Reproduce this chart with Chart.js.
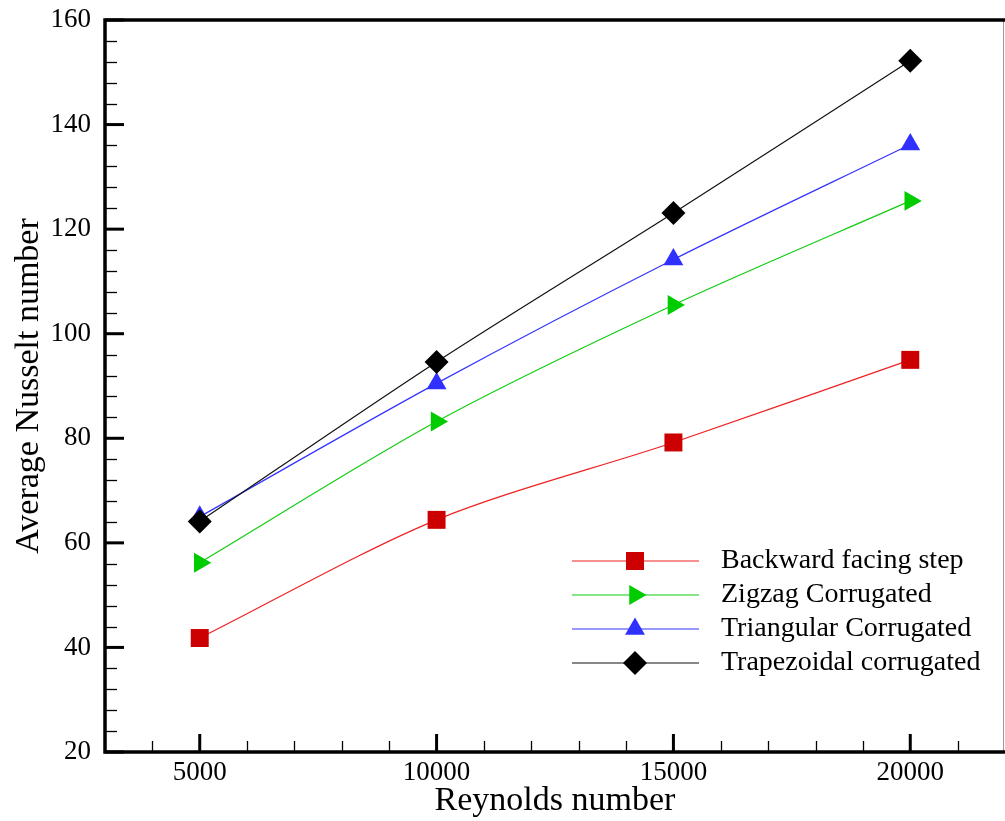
<!DOCTYPE html>
<html>
<head>
<meta charset="utf-8">
<script src="https://cdn.jsdelivr.net/npm/chart.js@4.4.0/dist/chart.umd.min.js"></script>
<style>
  html, body { margin: 0; padding: 0; background: #fff; overflow: hidden; }
  #nusseltChart { display: block; }
</style>
</head>
<body>
<canvas id="nusseltChart" width="1005" height="821"></canvas>
<script>
// ===== DATA =====
const reynolds = [5000, 10000, 15000, 20000];
const backwardStep = [41.8, 64.4, 79.2, 95.0];
const zigzag = [56.2, 83.2, 105.5, 125.4];
const triangular = [65.0, 90.5, 114.2, 136.2];
const trapezoidal = [64.1, 94.6, 123.1, 152.2];
const seriesNames = ['Backward facing step', 'Zigzag Corrugated', 'Triangular Corrugated', 'Trapezoidal corrugated'];
const xTickValues = [5000, 10000, 15000, 20000];
const yTickValues = [20, 40, 60, 80, 100, 120, 140, 160];

const SERIF = "'Liberation Serif', 'Times New Roman', serif";
Chart.defaults.font.family = SERIF;
Chart.defaults.color = '#000';

function toPoints(vals) {
  return reynolds.map((r, i) => ({ x: r, y: vals[i] }));
}

// no automatic label padding, the plot box is placed by hand
function noPad(s) {
  s.paddingTop = 0; s.paddingBottom = 0; s.paddingLeft = 0; s.paddingRight = 0;
}

// ===== FRAME + INWARD TICKS =====
const frameTicks = {
  id: 'frameTicks',
  afterDatasetsDraw(chart) {
    const { ctx, chartArea: a, scales: { x, y } } = chart;
    ctx.save();
    ctx.strokeStyle = '#000';

    // minor ticks
    ctx.lineWidth = 1.3;
    for (let v = x.min + 1000; v < x.max; v += 1000) {
      if (xTickValues.includes(v)) continue;
      const px = Math.round(x.getPixelForValue(v)) + 0.5;
      ctx.beginPath(); ctx.moveTo(px, a.bottom); ctx.lineTo(px, a.bottom - 11); ctx.stroke();
    }
    for (let v = y.min + 4; v < y.max; v += 4) {
      if (yTickValues.includes(v)) continue;
      const py = Math.round(y.getPixelForValue(v)) + 0.5;
      ctx.beginPath(); ctx.moveTo(a.left, py); ctx.lineTo(a.left + 12, py); ctx.stroke();
    }

    // major ticks
    ctx.lineWidth = 3;
    xTickValues.forEach(v => {
      const px = x.getPixelForValue(v);
      ctx.beginPath(); ctx.moveTo(px, a.bottom); ctx.lineTo(px, a.bottom - 18); ctx.stroke();
    });
    yTickValues.forEach(v => {
      const py = y.getPixelForValue(v);
      ctx.beginPath(); ctx.moveTo(a.left, py); ctx.lineTo(a.left + 19, py); ctx.stroke();
    });

    // frame
    ctx.strokeStyle = '#999';
    ctx.lineWidth = 1;
    ctx.beginPath(); ctx.moveTo(a.right - 1.5, a.top); ctx.lineTo(a.right - 1.5, a.bottom); ctx.stroke();
    ctx.strokeStyle = '#000';
    ctx.lineWidth = 3.5;
    ctx.beginPath();
    ctx.moveTo(a.right, a.top); ctx.lineTo(a.left, a.top);
    ctx.lineTo(a.left, a.bottom); ctx.lineTo(a.right, a.bottom);
    ctx.stroke();
    ctx.restore();
  }
};

// ===== LEGEND INSIDE PLOT =====
function drawMarker(ctx, style, r, rotation, cx, cy) {
  if (Chart.helpers && Chart.helpers.drawPoint) {
    Chart.helpers.drawPoint(ctx, { pointStyle: style, radius: r, rotation: rotation, borderWidth: 0 }, cx, cy);
    return;
  }
  ctx.beginPath();
  ctx.arc(cx, cy, r, 0, Math.PI * 2);
  ctx.fill();
}

const insideLegend = {
  id: 'insideLegend',
  afterDraw(chart) {
    const ctx = chart.ctx;
    ctx.save();
    chart.data.datasets.forEach((ds, i) => {
      const yy = 561 + i * 34;
      ctx.strokeStyle = ds.borderColor;
      ctx.lineWidth = ds.borderWidth;
      ctx.beginPath(); ctx.moveTo(572, yy); ctx.lineTo(699, yy); ctx.stroke();
      ctx.fillStyle = ds.pointBackgroundColor;
      drawMarker(ctx, ds.pointStyle, ds.pointRadius, ds.pointRotation || 0, 635, yy);
      ctx.fillStyle = '#000';
      ctx.font = '28px ' + SERIF;
      ctx.textAlign = 'left';
      ctx.textBaseline = 'middle';
      ctx.fillText(ds.label, 721, yy);
    });
    ctx.restore();
  }
};

// ===== CHART =====
const ctx = document.getElementById('nusseltChart');
new Chart(ctx, {
  type: 'line',
  data: {
    datasets: [
      {
        label: seriesNames[0], data: toPoints(backwardStep), order: 3,
        borderColor: '#ee2222', borderWidth: 1.2, tension: 0.3,
        pointStyle: 'rect', pointRadius: 12.7, pointBackgroundColor: '#cc0000', pointBorderWidth: 0
      },
      {
        label: seriesNames[1], data: toPoints(zigzag), order: 2,
        borderColor: '#11cc11', borderWidth: 1.2, tension: 0.3,
        pointStyle: 'triangle', pointRotation: 90, pointRadius: 11.5, pointBackgroundColor: '#00cc00', pointBorderWidth: 0
      },
      {
        label: seriesNames[2], data: toPoints(triangular), order: 1,
        borderColor: '#3333ff', borderWidth: 1.2, tension: 0.3,
        pointStyle: 'triangle', pointRadius: 11.5, pointBackgroundColor: '#3030ff', pointBorderWidth: 0
      },
      {
        label: seriesNames[3], data: toPoints(trapezoidal), order: 0,
        borderColor: '#111111', borderWidth: 1.2, tension: 0.3,
        pointStyle: 'rectRot', pointRadius: 12, pointBackgroundColor: '#000000', pointBorderWidth: 0
      }
    ]
  },
  options: {
    responsive: false,
    animation: false,
    layout: { autoPadding: false, padding: { top: 20, right: 0, left: 0, bottom: 0 } },
    plugins: {
      legend: { display: false },
      tooltip: { enabled: false }
    },
    scales: {
      x: {
        type: 'linear', min: 3000, max: 22000,
        grid: { display: false, drawTicks: false },
        border: { display: false },
        afterBuildTicks: s => { s.ticks = xTickValues.map(v => ({ value: v })); },
        afterFit: s => { s.height = 69; noPad(s); },
        ticks: { font: { size: 27 }, padding: 5, maxRotation: 0, autoSkip: false, callback: v => String(v) },
        title: { display: true, text: 'Reynolds number', font: { size: 34 }, padding: { top: 0, bottom: 0 } }
      },
      y: {
        type: 'linear', min: 20, max: 160,
        grid: { display: false, drawTicks: false },
        border: { display: false },
        afterBuildTicks: s => { s.ticks = yTickValues.map(v => ({ value: v })); },
        afterFit: s => { s.width = 105; noPad(s); },
        ticks: { font: { size: 27 }, padding: 14 },
        title: { display: true, text: 'Average Nusselt number', font: { size: 34 }, padding: { top: 9, bottom: 0 } }
      }
    }
  },
  plugins: [frameTicks, insideLegend]
});
</script>
</body>
</html>
